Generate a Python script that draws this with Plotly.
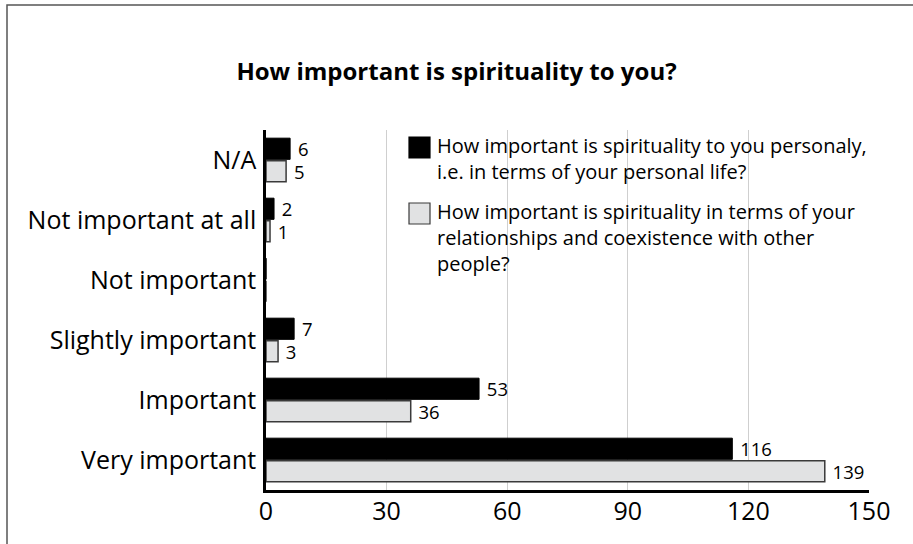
import plotly.graph_objects as go

categories = ["N/A", "Not important at all", "Not important", "Slightly important", "Important", "Very important"]
personal = [6, 2, 0, 7, 53, 116]
relationships = [5, 1, 0, 3, 36, 139]
series_names = [
    ["How important is spirituality to you personaly,", "i.e. in terms of your personal life?"],
    ["How important is spirituality in terms of your", "relationships and coexistence with other", "people?"],
]
x_ticks = [0, 30, 60, 90, 120, 150]
title = "How important is spirituality to you?"

FONT = "Open Sans"
BLACK = "#000000"
GREY = "#E1E2E3"
GREY_LINE = "#3a3a3a"

def labels(vals):
    return [str(v) if v else "" for v in vals]

fig = go.Figure()
fig.add_trace(go.Bar(
    y=categories, x=personal, orientation="h", name=" ".join(series_names[0]),
    marker=dict(color=BLACK, line=dict(color=BLACK, width=1)),
    text=labels(personal), texttemplate=" %{text}", textposition="outside",
    cliponaxis=False, constraintext="none",
    textfont=dict(family=FONT, size=18.5, color=BLACK), showlegend=False,
))
fig.add_trace(go.Bar(
    y=categories, x=relationships, orientation="h", name=" ".join(series_names[1]),
    marker=dict(color=GREY, line=dict(color=GREY_LINE, width=1.5)),
    text=labels(relationships), texttemplate=" %{text}", textposition="outside",
    cliponaxis=False, constraintext="none",
    textfont=dict(family=FONT, size=18.5, color=BLACK), showlegend=False,
))

W, H = 913, 544
ml, mr, mt, mb = 266, 44, 130, 54
pw, ph = W - ml - mr, H - mt - mb

def px(x):
    return (x - ml) / pw

def py(y):
    return (H - mb - y) / ph

shapes = [dict(type="rect", xref="paper", yref="paper",
               x0=px(7), x1=px(940), y0=py(570), y1=py(5),
               line=dict(color="#555555", width=1.5), fillcolor="rgba(0,0,0,0)", layer="below")]
annotations = []

# custom legend: square swatch + multi-line text block
legend_tops = [137, 203]
swatches = [(BLACK, BLACK), (GREY, GREY_LINE)]
for (fill, edge), top, lines in zip(swatches, legend_tops, series_names):
    shapes.append(dict(type="rect", xref="paper", yref="paper",
                       x0=px(409), x1=px(430), y0=py(top + 21), y1=py(top),
                       fillcolor=fill, line=dict(color=edge, width=1.2)))
    annotations.append(dict(text="<br>".join(lines), xref="paper", yref="paper", x=px(435),
                            y=py(top - 7), xanchor="left", yanchor="top", align="left",
                            showarrow=False, font=dict(family=FONT, size=20, color=BLACK)))

fig.update_layout(
    width=W, height=H,
    margin=dict(l=ml, r=mr, t=mt, b=mb),
    paper_bgcolor="white", plot_bgcolor="white",
    barmode="group", bargap=0.25, bargroupgap=0.06,
    font=dict(family=FONT, color=BLACK),
    title=dict(text="<b>" + title + "</b>", x=0.5, xanchor="center", y=1 - 72 / H, yanchor="middle",
               font=dict(family=FONT, size=24, color=BLACK)),
    showlegend=False,
    xaxis=dict(range=[0, 150], tickvals=x_ticks, showgrid=True, gridcolor="#cfcfcf", gridwidth=1,
               showline=True, linecolor=BLACK, linewidth=2.5, zeroline=False,
               ticks="", ticklabelstandoff=-3,
               tickfont=dict(family=FONT, size=25, color=BLACK)),
    yaxis=dict(autorange="reversed", showline=True, linecolor=BLACK, linewidth=2.5,
               showgrid=False, ticks="", ticklabelstandoff=2,
               tickfont=dict(family=FONT, size=25, color=BLACK)),
    shapes=shapes,
    annotations=annotations,
)

fig.write_html("out.html", config={"displayModeBar": False},
               post_script="document.body.style.margin='0';")
